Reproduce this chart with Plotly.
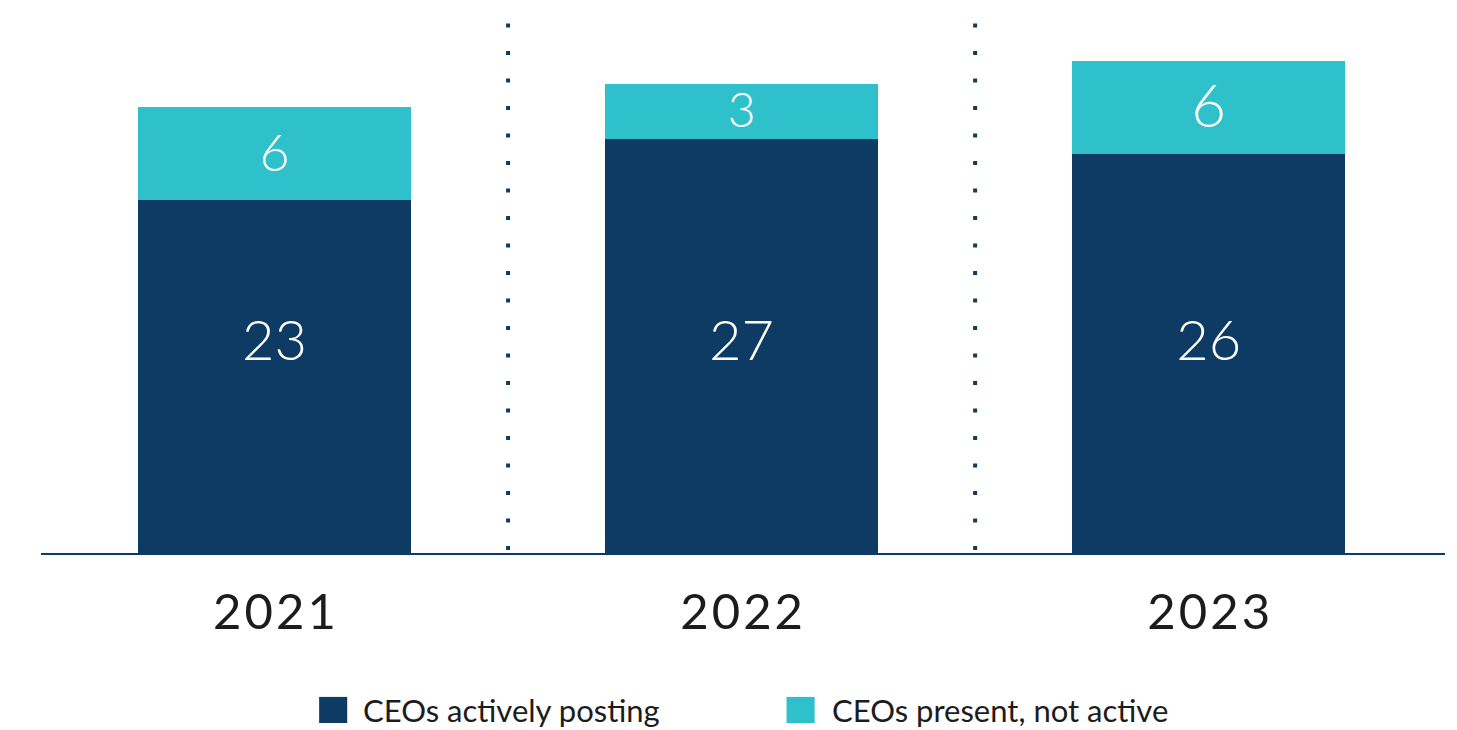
import plotly.graph_objects as go

# ---- data ----
years = ["2021", "2022", "2023"]
year_ticktext = ["2\u200a0\u200a2\u200a1", "2\u200a0\u200a2\u200a2", "2\u200a0\u200a2\u200a3"]
active = [23, 27, 26]                 # CEOs actively posting
present = [6.1, 3.6, 6.1]             # CEOs present, not active (bar heights as drawn)
active_labels = ["23", "27", "26"]
present_labels = ["6", "3", "6"]
series_names = ["CEOs actively posting", "CEOs present, not active"]

NAVY = "#0E3B63"
CYAN = "#2FC1CB"
TXT = "#1c1c1c"
FONT = "Lato"

fig = go.Figure()
fig.add_trace(go.Bar(x=years, y=active, name=series_names[0], marker_color=NAVY,
                     marker_line_width=0, width=0.585, showlegend=False, hoverinfo="skip"))
fig.add_trace(go.Bar(x=years, y=present, name=series_names[1], marker_color=CYAN,
                     marker_line_width=0, width=0.585, showlegend=False, hoverinfo="skip"))

# labels
fig.add_trace(go.Scatter(x=years, y=[max(active) / 2] * len(years), mode="text",
                         text=active_labels, textposition="middle center",
                         textfont=dict(family=FONT, size=56, color="white", weight=300),
                         showlegend=False, hoverinfo="skip", cliponaxis=False))
fig.add_trace(go.Scatter(x=years, y=[a + p / 2 - 0.25 for a, p in zip(active, present)], mode="text",
                         text=present_labels, textposition="middle center",
                         textfont=dict(family=FONT, size=[52, 48, 60], color="white", weight=300),
                         showlegend=False, hoverinfo="skip", cliponaxis=False))

# dotted separators between years
for xs in [0.5, 1.5]:
    fig.add_shape(type="line", xref="x", yref="y", x0=xs, x1=xs, y0=0.196, y1=34.57,
                  line=dict(color=NAVY, width=4, dash="4px,23.5px"), layer="below")

# custom legend
legend_items = [(0.1981, 0.2181, 0.2281, NAVY, series_names[0]),
                (0.5310, 0.5510, 0.5617, CYAN, series_names[1])]
for x0, x1, xt, col, name in legend_items:
    fig.add_shape(type="rect", xref="paper", yref="paper", x0=x0, x1=x1,
                  y0=-0.319, y1=-0.270, fillcolor=col, line_width=0)
    fig.add_annotation(xref="paper", yref="paper", x=xt, y=-0.2946, text=name,
                       showarrow=False, xanchor="left", yanchor="middle",
                       font=dict(family=FONT, size=31, color=TXT))

fig.update_layout(
    width=1457, height=730,
    margin=dict(l=41, r=12, t=20, b=177),
    barmode="stack",
    plot_bgcolor="white", paper_bgcolor="white",
    font=dict(family=FONT),
    showlegend=False,
)
fig.update_xaxes(type="category", range=[-0.5, 2.506], tickvals=years, ticktext=year_ticktext,
                 showline=True, linecolor=NAVY, linewidth=2, showgrid=False, zeroline=False,
                 ticks="", ticklabelstandoff=15,
                 tickfont=dict(family=FONT, size=49, color=TXT))
fig.update_yaxes(range=[0, 34.77], visible=False, showgrid=False, zeroline=False)

fig.write_html("out.html", config={"displayModeBar": False},
               post_script="document.body.style.margin='0';")
